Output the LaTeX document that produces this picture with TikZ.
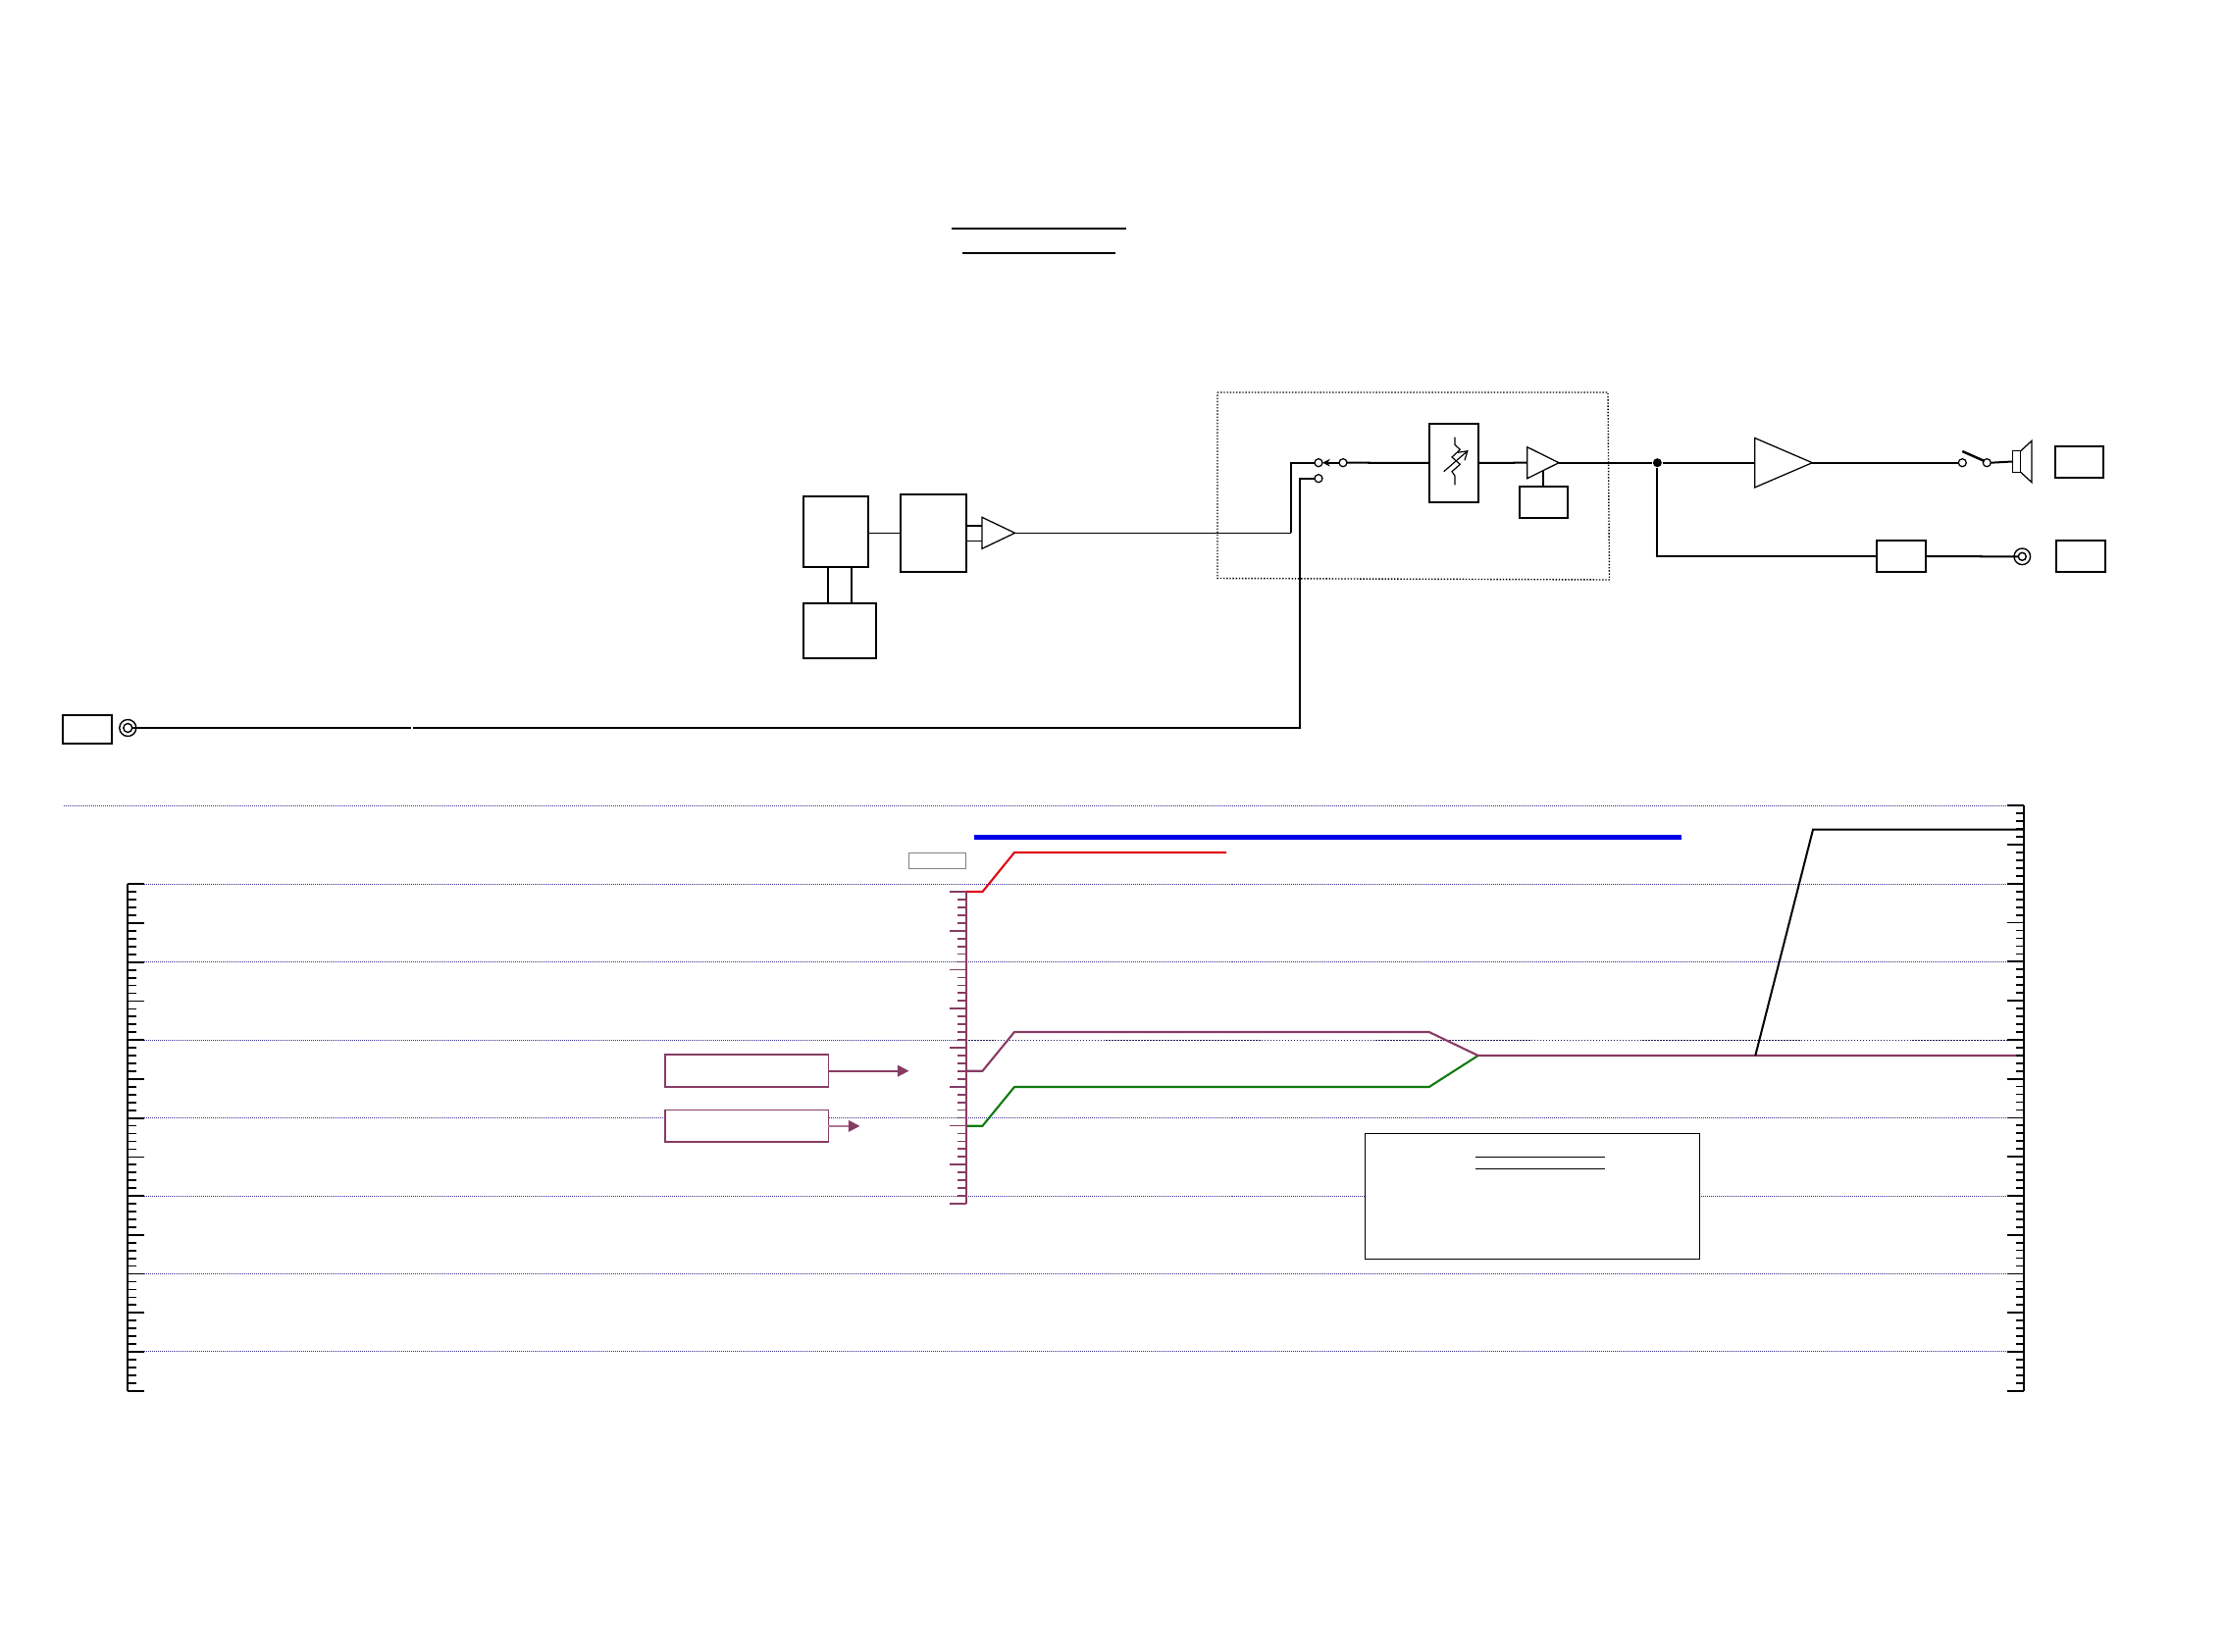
\documentclass[tikz,border=0pt]{standalone}
\usepackage{tikz}
\usetikzlibrary{arrows.meta,shapes.geometric}

\definecolor{tracemaroon}{HTML}{873B63}
\definecolor{tracegreen}{HTML}{107A10}
\definecolor{tracered}{HTML}{E00A14}
\definecolor{traceblue}{HTML}{0000E6}
\definecolor{gridblue}{HTML}{322D90}
\definecolor{griddark}{HTML}{1A1A50}

\tikzset{
  mainline/.style={line width=.57pt},
  thinline/.style={line width=.34pt},
  blockbox/.style={draw,line width=.57pt,inner sep=0pt,outer sep=0pt},
  ampshape/.style={draw,line width=.36pt,isosceles triangle,isosceles triangle stretches,
    inner sep=0pt,outer sep=0pt,anchor=lower side},
  contact/.style={draw,circle,fill=white,line width=.36pt,minimum size=.08cm,inner sep=0pt,outer sep=0pt},
  jackring/.style={draw,circle,line width=.4pt,inner sep=0pt,outer sep=0pt},
  gridline/.style={gridblue,line width=.2845pt,dash pattern=on .2845pt off .2845pt},
  axisline/.style={line width=.5pt},
  maroonbox/.style={draw=tracemaroon,fill=white,line width=.5pt,inner sep=0pt,outer sep=0pt,
    minimum width=1.665cm,minimum height=.327cm},
  maroonarrow/.style={tracemaroon,line width=.5pt,-{Triangle[length=3.3pt,width=3.3pt,color=tracemaroon]}}
}

\begin{document}
\begin{tikzpicture}[x=0.01cm,y=-0.01cm]
  \useasboundingbox (0,0) rectangle (2268,1684);

  % Title lines
  \coordinate (titlea) at (970,233);
  \coordinate (titleb) at (1148,233);
  \coordinate (titlec) at (981,258);
  \coordinate (titled) at (1137,258);
  \draw[mainline] (titlea) -- (titleb);
  \draw[mainline] (titlec) -- (titled);

  % Dotted housing
  \draw[black,line width=.4pt,dash pattern=on .4pt off .5pt] (1241,400) -- (1639,400) -- (1640.5,591) -- (1241,589.5) -- cycle;

  % Source blocks
  \node[blockbox,minimum width=.666cm,minimum height=.723cm] (boxa) at (852.1,541.85) {};
  \node[blockbox,minimum width=.674cm,minimum height=.793cm] (boxb) at (951.7,543.35) {};
  \node[blockbox,minimum width=.742cm,minimum height=.563cm] (boxc) at (855.9,642.85) {};
  \coordinate (linkl) at (844.3,600);
  \coordinate (linkr) at (868,600);
  \draw[mainline] (boxa.south -| linkl) -- (boxc.north -| linkl);
  \draw[mainline] (boxa.south -| linkr) -- (boxc.north -| linkr);
  \draw[thinline] (boxa.east |- boxb.east) -- (boxb.west);

  % First amplifier
  \node[ampshape,minimum width=.32cm,minimum height=.335cm] (ampone) at (1001,543.3) {};
  \coordinate (ampupper) at (1001,535.7);
  \coordinate (amplower) at (1001,551.3);
  \draw[mainline] (boxb.east |- ampupper) -- (ampupper);
  \draw[thinline] (boxb.east |- amplower) -- (amplower);

  % Selector contacts
  \node[contact] (conta) at (1344,471.7) {};
  \node[contact] (contb) at (1369,471.7) {};
  \node[contact] (contc) at (1344,487.7) {};
  \coordinate (turnup) at (1316,543.3);
  \coordinate (turndown) at (1325,742);
  \draw[thinline] (ampone.apex) -- (turnup);
  \draw[mainline] (turnup) |- (conta.west);
  \draw[mainline,-{Stealth[length=2.2pt,width=2.2pt]}] (contb.west) -- (conta.east);

  % Line input
  \node[blockbox,minimum width=.506cm,minimum height=.296cm] (inbox) at (89,743.5) {};
  \node[jackring,minimum size=.17cm] (jackl) at (130.3,742) {};
  \node[jackring,minimum size=.09cm] (jacklin) at (130.3,742) {};
  \coordinate (gapa) at (419,742);
  \coordinate (gapb) at (421,742);
  \draw[mainline] (jacklin.east) -- (gapa);
  \draw[mainline] (gapb) -- (turndown) |- (contc.west);

  % Volume block
  \node[blockbox,minimum width=.506cm,minimum height=.803cm] (volbox) at (1482,471.85) {};
  \draw[mainline] (contb.east) -- (volbox.west);
  \draw[thinline] (1483,445.7) -- (1483,453.3) -- (1488.3,458.3) -- (1480,466) -- (1488.3,473.3) -- (1480,480.7) -- (1483,485) -- (1483,494.3);
  \draw[thinline,-{Straight Barb[length=2.4pt,width=3pt]}] (1471.7,480.7) -- (1496.7,459);

  % Second amplifier
  \node[ampshape,minimum width=.32cm,minimum height=.323cm] (amptwo) at (1556.7,471.7) {};
  \node[blockbox,minimum width=.493cm,minimum height=.323cm] (gainbox) at (1573.6,511.85) {};
  \coordinate (gainlink) at (1573,480);
  \draw[mainline] (volbox.east) -- (amptwo.lower side);
  \draw[mainline] (gainlink) -- (gainlink |- gainbox.north);

  % Output side
  \node[ampshape,minimum width=.504cm,minimum height=.586cm] (ampthree) at (1788.7,471.7) {};
  \node[circle,fill=black,inner sep=0pt,minimum size=.09cm] (junction) at (1689.4,471.7) {};
  \draw[mainline] (amptwo.apex) -- (junction) -- (ampthree.lower side);

  \node[contact] (contd) at (2000.3,471.7) {};
  \node[contact] (conte) at (2025.3,471.7) {};
  \coordinate (bladea) at (2000.3,460);
  \coordinate (bladeb) at (2022.7,470);
  \draw[mainline] (ampthree.apex) -- (contd.west);
  \draw[line width=.7pt] (bladea) -- (bladeb);

  \node[draw,line width=.36pt,inner sep=0pt,outer sep=0pt,minimum width=.084cm,minimum height=.216cm] (spk) at (2055.5,470.5) {};
  \draw[mainline] (conte.east) -- (spk.west);
  \draw[line width=.36pt] (spk.north east) -- (2071,449.3) -- (2071,491.7) -- (spk.south east);
  \node[blockbox,minimum width=.496cm,minimum height=.326cm] (spkbox) at (2119.5,471) {};

  \node[blockbox,minimum width=.5cm,minimum height=.317cm] (filterbox) at (1938.3,567.15) {};
  \node[jackring,minimum size=.166cm] (jackr) at (2061.3,567.3) {};
  \node[jackring,minimum size=.08cm] (jackrin) at (2061.3,567.3) {};
  \node[blockbox,minimum width=.506cm,minimum height=.317cm] (outbox) at (2121,567.15) {};
  \draw[mainline] (junction) |- (filterbox.west);
  \draw[mainline] (filterbox.east) -- (jackrin.west);

  % Level grid
  \draw[gridline] (65,821.5) -- (2046,821.5);
  \foreach \ygrid in {901.5,980.5,1139.5,1219.5,1298.5,1377.5}
    \draw[gridline] (147,\ygrid) -- (2046,\ygrid);
  \draw[gridline] (147,1060.5) -- (987,1060.5);
  \draw[griddark,line width=.42pt,dash pattern=on .45pt off .4pt] (987,1060.5) -- (2046,1060.5);

  % Level traces
  \node[draw=gray,line width=.3pt,inner sep=0pt,outer sep=0pt,minimum width=.58cm,minimum height=.16cm] (redlabel) at (955.5,877.3) {};
  \draw[traceblue,line width=1.33pt] (993,853.3) -- (1714,853.3);
  \draw[tracered,line width=.6pt] (985,909) -- (1001.5,909) -- (1034,869) -- (1250,869);
  \draw[tracegreen,line width=.6pt] (985,1147.7) -- (1001.5,1147.7) -- (1034,1108) -- (1456.7,1108) -- (1506.7,1076);
  \draw[tracemaroon,line width=.6pt] (985,1091.7) -- (1001.5,1091.7) -- (1034,1052) -- (1456.7,1052) -- (1506.7,1076) -- (2063,1076);
  \draw[mainline] (1789.3,1076) -- (1848,845.7) -- (2063,845.7);

  % Left scale
  \draw[axisline] (130,901.3) -- (130,1417.7);
  \foreach \i in {0,...,65}
    \draw[axisline] (130,{901.3+7.945*\i}) -- ++(9,0);
  \foreach \i in {0,5,...,65}
    \draw[axisline] (130,{901.3+7.945*\i}) -- ++(17,0);

  % Right scale
  \draw[axisline] (2063,821.3) -- (2063,1417.7);
  \foreach \i in {0,...,75}
    \draw[axisline] (2063,{821.3+7.952*\i}) -- ++(-8,0);
  \foreach \i in {0,5,...,75}
    \draw[axisline] (2063,{821.3+7.952*\i}) -- ++(-17,0);

  % Middle scale
  \draw[tracemaroon,axisline] (985,909) -- (985,1227);
  \foreach \i in {0,...,40}
    \draw[tracemaroon,axisline] (985,{909+7.95*\i}) -- ++(-9,0);
  \foreach \i in {0,5,...,40}
    \draw[tracemaroon,axisline] (985,{909+7.95*\i}) -- ++(-17,0);

  % Level tags
  \node[maroonbox] (tagone) at (761.1,1091.65) {};
  \node[maroonbox] (tagtwo) at (761.1,1147.85) {};
  \coordinate (tagonetip) at (926.5,1091.65);
  \coordinate (tagtwotip) at (876.5,1147.85);
  \draw[maroonarrow] (tagone.east) -- (tagonetip);
  \draw[maroonarrow,draw=tracemaroon!70] (tagtwo.east) -- (tagtwotip);

  % Legend
  \node[draw,fill=white,line width=.36pt,inner sep=0pt,outer sep=0pt,minimum width=3.414cm,minimum height=1.28cm] (legend) at (1562,1219.3) {};
  \coordinate (legenda) at (1504,1179.3);
  \coordinate (legendb) at (1636,1179.3);
  \coordinate (legendc) at (1504,1191.3);
  \coordinate (legendd) at (1636,1191.3);
  \draw[thinline] (legenda) -- (legendb);
  \draw[thinline] (legendc) -- (legendd);
\end{tikzpicture}
\end{document}
